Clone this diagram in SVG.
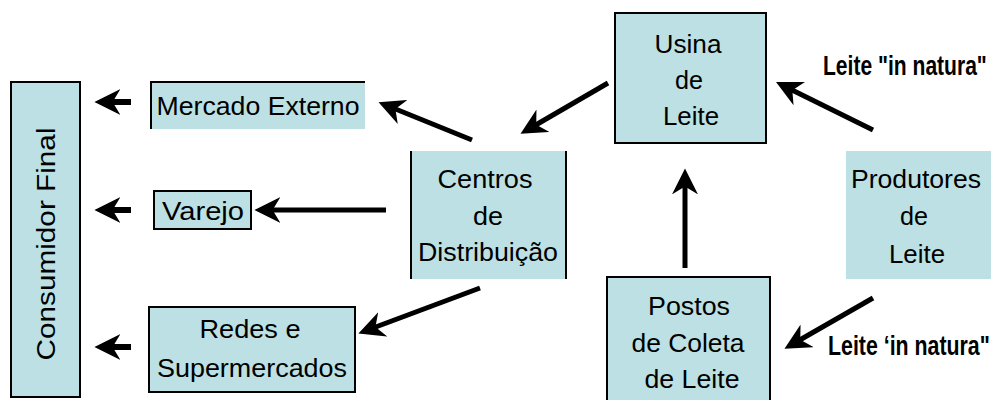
<svg xmlns="http://www.w3.org/2000/svg" width="996" height="400" viewBox="0 0 996 400">
<style>
.box{fill:#bce0e3}
.bd{fill:none;stroke:#000;stroke-width:2}
.t{font-family:"Liberation Sans",Arial,sans-serif;font-size:26px;fill:#000;text-anchor:middle}
.lb{font-family:"Liberation Sans",Arial,sans-serif;font-size:27px;font-weight:bold;fill:#000}
.c{stroke:#000;stroke-width:5;fill:none;marker-end:url(#ah)}
.cs{stroke:#000;stroke-width:6;fill:none;marker-end:url(#ah)}
</style>
<defs>
<marker id="ah" markerUnits="userSpaceOnUse" markerWidth="26" markerHeight="26" viewBox="0 0 20 20" refX="8" refY="10" orient="auto">
<path d="M0,0 L20,10 L0,20 L6,10 z" fill="#000"/>
</marker>
</defs>
<rect width="996" height="400" fill="#fff"/>
<g id="consumidor">
<rect class="box" x="11" y="82" width="69" height="315"/>
<rect class="bd" x="11" y="82" width="69" height="315"/>
<text class="t" transform="translate(55,244) rotate(-90)" font-size="25" textLength="233" lengthAdjust="spacingAndGlyphs">Consumidor Final</text>
</g>
<g id="mercado">
<rect class="box" x="151" y="82" width="214" height="47"/>
<path class="bd" d="M151,129 V82 H365"/>
<text class="t" x="258" y="115" textLength="203" lengthAdjust="spacingAndGlyphs">Mercado Externo</text>
</g>
<g id="varejo">
<rect class="box" x="154" y="191" width="97" height="38"/>
<rect class="bd" x="154" y="191" width="97" height="38"/>
<text class="t" x="203" y="220" textLength="82" lengthAdjust="spacingAndGlyphs">Varejo</text>
</g>
<g id="redes">
<rect class="box" x="149" y="307" width="206" height="85"/>
<rect class="bd" x="149" y="307" width="206" height="85"/>
<text class="t" x="250" y="338" textLength="101" lengthAdjust="spacingAndGlyphs">Redes e</text>
<text class="t" x="252" y="377" textLength="190" lengthAdjust="spacingAndGlyphs">Supermercados</text>
</g>
<g id="centros">
<rect class="box" x="411" y="151" width="155" height="128"/>
<path class="bd" d="M411,151 V279 M566,151 V279"/>
<text class="t" x="485" y="188" textLength="95" lengthAdjust="spacingAndGlyphs">Centros</text>
<text class="t" x="488" y="225" textLength="30" lengthAdjust="spacingAndGlyphs">de</text>
<text class="t" x="488" y="261" textLength="140" lengthAdjust="spacingAndGlyphs">Distribuição</text>
</g>
<g id="usina">
<rect class="box" x="615" y="13" width="151" height="130"/>
<rect class="bd" x="615" y="13" width="151" height="130"/>
<text class="t" x="688" y="53" textLength="67" lengthAdjust="spacingAndGlyphs">Usina</text>
<text class="t" x="689" y="89" textLength="28" lengthAdjust="spacingAndGlyphs">de</text>
<text class="t" x="691" y="125" textLength="56" lengthAdjust="spacingAndGlyphs">Leite</text>
</g>
<g id="produtores">
<rect class="box" x="846" y="151" width="145" height="128"/>
<text class="t" x="916" y="188" textLength="130" lengthAdjust="spacingAndGlyphs">Produtores</text>
<text class="t" x="914" y="225" textLength="28" lengthAdjust="spacingAndGlyphs">de</text>
<text class="t" x="917" y="263" textLength="56" lengthAdjust="spacingAndGlyphs">Leite</text>
</g>
<g id="postos">
<rect class="box" x="607" y="277" width="163" height="130"/>
<path class="bd" d="M607,400 V277 H770 V400"/>
<text class="t" x="689" y="315" textLength="82" lengthAdjust="spacingAndGlyphs">Postos</text>
<text class="t" x="688" y="352" textLength="113" lengthAdjust="spacingAndGlyphs">de Coleta</text>
<text class="t" x="692" y="388" textLength="95" lengthAdjust="spacingAndGlyphs">de Leite</text>
</g>
<g id="labels">
<text class="lb" transform="translate(823,75) scale(0.78,1)">Leite "in natura"</text>
<text class="lb" transform="translate(828,355) scale(0.79,1)">Leite ‘in natura"</text>
</g>
<g id="connectors">
<line class="cs" x1="131" y1="102" x2="110" y2="102"/>
<line class="cs" x1="131" y1="210" x2="110" y2="210"/>
<line class="cs" x1="131" y1="347" x2="110" y2="347"/>
<line class="c" x1="386" y1="210" x2="270" y2="210"/>
<line class="c" x1="472" y1="140" x2="393" y2="108"/>
<line class="c" x1="608" y1="83" x2="534" y2="126"/>
<line class="c" x1="480" y1="288" x2="373" y2="328"/>
<line class="c" x1="685" y1="268" x2="685" y2="184"/>
<line class="c" x1="873" y1="130" x2="790" y2="89"/>
<line class="c" x1="873" y1="298" x2="798" y2="341"/>
</g>
</svg>
